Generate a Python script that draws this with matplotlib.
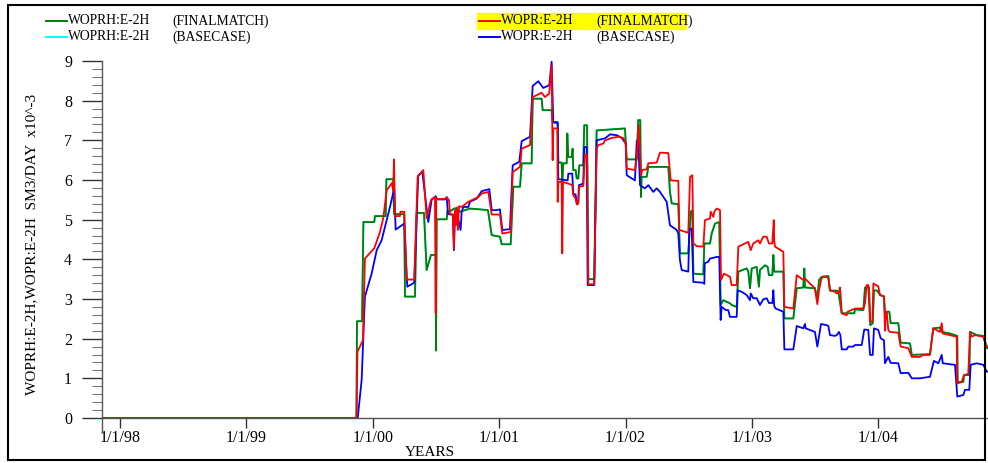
import matplotlib.pyplot as plt
from matplotlib.lines import Line2D
from matplotlib.patches import Rectangle

# oil rate E-2H, x in decimal years, y in SM3/DAY x10^-3
# WOPRH is the observed history, identical for both runs
woprhYears = [1997.858, 1999.871, 1999.875, 1999.915, 1999.926, 2000.012, 2000.017, 2000.102, 2000.108,
              2000.162, 2000.168, 2000.249, 2000.255, 2000.334, 2000.347, 2000.405, 2000.426, 2000.460,
              2000.498, 2000.500, 2000.506, 2000.585, 2000.591, 2000.611, 2000.650, 2000.690, 2000.769,
              2000.848, 2000.911, 2000.941, 2001.006, 2001.020, 2001.091, 2001.112, 2001.165, 2001.178,
              2001.257, 2001.265, 2001.336, 2001.344, 2001.415, 2001.423, 2001.463, 2001.468, 2001.494,
              2001.499, 2001.507, 2001.534, 2001.539, 2001.547, 2001.574, 2001.581, 2001.586, 2001.605,
              2001.613, 2001.626, 2001.634, 2001.665, 2001.673, 2001.695, 2001.705, 2001.752, 2001.771,
              2001.995, 2002.009, 2002.088, 2002.100, 2002.116, 2002.122, 2002.127, 2002.167, 2002.180,
              2002.338, 2002.351, 2002.365, 2002.417, 2002.430, 2002.496, 2002.515, 2002.528, 2002.536,
              2002.615, 2002.623, 2002.668, 2002.681, 2002.707, 2002.741, 2002.752, 2002.773, 2002.826,
              2002.839, 2002.879, 2002.892, 2002.958, 2002.971, 2002.984, 2002.998, 2003.037, 2003.055,
              2003.063, 2003.103, 2003.124, 2003.134, 2003.161, 2003.169, 2003.176, 2003.248, 2003.256,
              2003.327, 2003.354, 2003.406, 2003.414, 2003.419, 2003.498, 2003.517, 2003.530, 2003.551,
              2003.604, 2003.617, 2003.670, 2003.683, 2003.710, 2003.809, 2003.815, 2003.881, 2003.894,
              2003.926, 2003.936, 2003.955, 2003.965, 2003.991, 2004.013, 2004.044, 2004.052, 2004.086,
              2004.097, 2004.157, 2004.176, 2004.250, 2004.264, 2004.408, 2004.434, 2004.487, 2004.501,
              2004.566, 2004.624, 2004.627, 2004.672, 2004.677, 2004.719, 2004.725, 2004.751, 2004.778,
              2004.830, 2004.857, 2004.867]
woprhRates = [0, 0, 2.44, 2.44, 4.94, 4.94, 5.09, 5.09, 6.02,
              6.02, 5.14, 5.14, 3.06, 3.06, 5.17, 5.17, 3.73, 4.11,
              4.11, 1.70, 5.01, 5.01, 5.22, 5.21, 5.29, 5.20, 5.28,
              5.26, 5.24, 4.61, 4.57, 4.38, 4.38, 5.83, 5.83, 6.42,
              6.42, 8.05, 8.05, 7.76, 7.76, 7.46, 7.42, 6.44, 6.44,
              5.87, 6.42, 6.42, 7.17, 6.58, 6.58, 6.79, 6.25, 6.25,
              6.04, 6.04, 6.37, 6.37, 7.38, 7.38, 3.50, 3.50, 7.25,
              7.30, 6.52, 6.52, 7.51, 7.51, 5.57, 6.08, 6.08, 6.33,
              6.33, 5.70, 5.41, 5.39, 4.15, 4.15, 5.20, 5.24, 3.64,
              3.62, 4.40, 4.40, 4.65, 4.90, 4.94, 2.85, 2.97, 2.89,
              2.85, 2.80, 3.69, 3.77, 3.69, 3.27, 3.77, 3.81, 3.31,
              3.73, 3.85, 3.81, 3.60, 3.60, 4.11, 3.69, 3.69, 2.51,
              2.51, 3.27, 3.29, 3.77, 3.29, 3.27, 2.97, 3.48, 3.56,
              3.58, 3.21, 3.21, 3.18, 2.64, 2.64, 2.74, 2.72, 3.29,
              3.29, 2.34, 2.39, 3.22, 3.21, 3.10, 3.06, 2.68, 2.68,
              2.39, 2.39, 1.90, 1.88, 1.59, 1.61, 2.26, 2.28, 2.17,
              2.13, 2.07, 0.91, 0.91, 1.08, 1.08, 2.17, 2.13, 2.09,
              2.07, 1.76, 1.76]

woprFinalYears = [1997.858, 1999.871, 1999.879, 1999.922, 1999.938, 2000.012, 2000.057, 2000.083, 2000.110,
                  2000.150, 2000.162, 2000.168, 2000.176, 2000.215, 2000.219, 2000.249, 2000.268, 2000.328,
                  2000.355, 2000.400, 2000.426, 2000.460, 2000.492, 2000.498, 2000.502, 2000.571, 2000.585,
                  2000.603, 2000.611, 2000.634, 2000.642, 2000.650, 2000.658, 2000.666, 2000.674, 2000.682,
                  2000.703, 2000.756, 2000.835, 2000.862, 2000.914, 2000.941, 2001.006, 2001.025, 2001.091,
                  2001.107, 2001.165, 2001.178, 2001.244, 2001.265, 2001.336, 2001.362, 2001.396, 2001.415,
                  2001.423, 2001.428, 2001.460, 2001.463, 2001.468, 2001.494, 2001.499, 2001.505, 2001.547,
                  2001.578, 2001.586, 2001.605, 2001.616, 2001.626, 2001.631, 2001.665, 2001.679, 2001.695,
                  2001.705, 2001.752, 2001.771, 2001.784, 2001.824, 2001.837, 2001.890, 2001.942, 2001.982,
                  2002.001, 2002.009, 2002.074, 2002.088, 2002.104, 2002.122, 2002.132, 2002.167, 2002.180,
                  2002.246, 2002.272, 2002.338, 2002.357, 2002.417, 2002.425, 2002.496, 2002.510, 2002.528,
                  2002.536, 2002.563, 2002.615, 2002.628, 2002.668, 2002.673, 2002.694, 2002.702, 2002.721,
                  2002.747, 2002.755, 2002.778, 2002.826, 2002.839, 2002.879, 2002.892, 2002.919, 2002.971,
                  2002.990, 2003.010, 2003.050, 2003.063, 2003.089, 2003.116, 2003.134, 2003.161, 2003.172,
                  2003.176, 2003.182, 2003.208, 2003.248, 2003.256, 2003.327, 2003.354, 2003.380, 2003.406,
                  2003.419, 2003.445, 2003.498, 2003.517, 2003.530, 2003.551, 2003.591, 2003.604, 2003.617,
                  2003.657, 2003.670, 2003.688, 2003.696, 2003.702, 2003.710, 2003.749, 2003.757, 2003.815,
                  2003.881, 2003.894, 2003.907, 2003.920, 2003.934, 2003.952, 2003.960, 2003.999, 2004.013,
                  2004.044, 2004.052, 2004.058, 2004.066, 2004.078, 2004.092, 2004.157, 2004.176, 2004.237,
                  2004.264, 2004.329, 2004.355, 2004.408, 2004.434, 2004.487, 2004.501, 2004.509, 2004.566,
                  2004.619, 2004.624, 2004.659, 2004.677, 2004.711, 2004.725, 2004.738, 2004.764, 2004.830,
                  2004.843, 2004.857, 2004.867]
woprFinalRates = [0, 0, 1.67, 1.96, 4.02, 4.28, 4.69, 5.04, 5.74,
                  5.92, 5.74, 6.52, 5.09, 5.09, 5.20, 5.20, 3.49, 3.49,
                  6.08, 6.25, 5.04, 5.49, 5.57, 2.64, 5.52, 5.52, 5.57,
                  5.49, 5.13, 5.13, 4.27, 5.24, 4.86, 5.31, 4.74, 5.34,
                  5.32, 5.45, 5.57, 5.66, 5.70, 5.13, 5.13, 4.65, 4.69,
                  6.20, 6.33, 6.79, 6.88, 8.09, 8.20, 8.09, 8.18, 8.89,
                  6.50, 7.30, 7.30, 5.45, 5.95, 5.95, 4.15, 5.95, 5.91,
                  5.87, 5.62, 5.53, 5.38, 5.41, 5.83, 5.85, 6.64, 6.64,
                  3.37, 3.37, 6.79, 6.88, 6.92, 7.00, 7.06, 7.09, 7.06,
                  6.92, 6.29, 6.25, 6.54, 7.38, 6.12, 6.25, 6.27, 6.42,
                  6.44, 6.69, 6.68, 5.99, 5.98, 4.74, 4.67, 6.08, 6.12,
                  4.40, 4.33, 4.32, 4.99, 5.03, 5.20, 5.07, 5.20, 5.28,
                  5.24, 3.48, 3.64, 3.56, 3.35, 3.35, 4.32, 4.36, 4.44,
                  4.23, 4.40, 4.48, 4.40, 4.57, 4.57, 4.40, 4.40, 4.99,
                  4.48, 4.32, 4.27, 4.19, 2.80, 2.76, 3.60, 3.54, 3.48,
                  3.52, 3.43, 3.27, 2.87, 3.22, 3.54, 3.56, 3.52, 3.22,
                  3.18, 3.14, 3.18, 3.29, 3.06, 2.64, 2.59, 2.68, 2.76,
                  2.76, 2.89, 3.35, 3.35, 2.43, 2.43, 3.39, 3.32, 3.10,
                  3.07, 2.20, 2.64, 2.68, 2.22, 2.17, 2.15, 1.80, 1.76,
                  1.54, 1.54, 1.59, 1.59, 2.26, 2.17, 2.39, 2.13, 2.09,
                  2.05, 0.87, 0.91, 1.08, 1.11, 2.17, 2.05, 2.09, 2.05,
                  1.92, 1.80, 1.80]

woprBaseYears = [1997.858, 1999.881, 1999.912, 1999.938, 1999.991, 2000.031, 2000.070, 2000.110, 2000.136,
                 2000.170, 2000.181, 2000.249, 2000.273, 2000.328, 2000.360, 2000.392, 2000.439, 2000.466,
                 2000.498, 2000.508, 2000.571, 2000.585, 2000.595, 2000.634, 2000.642, 2000.650, 2000.674,
                 2000.695, 2000.703, 2000.716, 2000.756, 2000.769, 2000.822, 2000.862, 2000.922, 2000.941,
                 2000.980, 2001.006, 2001.025, 2001.085, 2001.107, 2001.159, 2001.178, 2001.244, 2001.265,
                 2001.309, 2001.349, 2001.396, 2001.415, 2001.428, 2001.463, 2001.468, 2001.542, 2001.547,
                 2001.578, 2001.586, 2001.605, 2001.613, 2001.626, 2001.631, 2001.665, 2001.673, 2001.692,
                 2001.700, 2001.752, 2001.771, 2001.837, 2001.877, 2001.930, 2001.969, 2002.001, 2002.009,
                 2002.074, 2002.088, 2002.100, 2002.114, 2002.132, 2002.153, 2002.180, 2002.219, 2002.246,
                 2002.272, 2002.325, 2002.351, 2002.404, 2002.417, 2002.430, 2002.444, 2002.496, 2002.504,
                 2002.523, 2002.536, 2002.615, 2002.623, 2002.626, 2002.654, 2002.668, 2002.721, 2002.741,
                 2002.752, 2002.760, 2002.794, 2002.812, 2002.826, 2002.879, 2002.887, 2002.919, 2002.958,
                 2002.984, 2002.990, 2003.010, 2003.037, 2003.063, 2003.089, 2003.116, 2003.134, 2003.161,
                 2003.169, 2003.176, 2003.187, 2003.248, 2003.256, 2003.327, 2003.354, 2003.406, 2003.419,
                 2003.425, 2003.498, 2003.517, 2003.546, 2003.591, 2003.604, 2003.617, 2003.657, 2003.670,
                 2003.688, 2003.699, 2003.710, 2003.749, 2003.762, 2003.801, 2003.815, 2003.868, 2003.888,
                 2003.920, 2003.934, 2003.955, 2003.965, 2003.999, 2004.018, 2004.044, 2004.052, 2004.078,
                 2004.097, 2004.157, 2004.176, 2004.237, 2004.264, 2004.329, 2004.408, 2004.439, 2004.474,
                 2004.501, 2004.509, 2004.606, 2004.624, 2004.672, 2004.685, 2004.719, 2004.730, 2004.778,
                 2004.830, 2004.857, 2004.867]
woprBaseRates = [0, 0, 0.96, 3.06, 3.64, 4.23, 4.48, 4.99, 5.32,
                 5.79, 4.75, 4.90, 3.31, 3.41, 6.12, 6.20, 4.94, 5.51,
                 5.59, 5.51, 5.51, 5.56, 5.14, 5.13, 4.23, 5.19, 5.04,
                 4.74, 5.19, 5.32, 5.32, 5.45, 5.53, 5.72, 5.77, 5.24,
                 5.24, 5.26, 4.74, 4.76, 6.37, 6.46, 6.98, 7.09, 8.37,
                 8.49, 8.32, 8.39, 8.98, 7.46, 7.46, 6.02, 5.99, 6.16,
                 6.16, 5.66, 5.63, 5.41, 5.45, 5.87, 5.91, 6.83, 6.83,
                 3.35, 3.35, 7.00, 7.05, 7.15, 7.13, 7.06, 6.92, 6.12,
                 5.99, 6.96, 7.05, 5.87, 5.83, 5.79, 5.87, 5.70, 5.79,
                 5.70, 5.45, 4.86, 4.74, 4.65, 3.98, 3.73, 3.69, 4.74,
                 4.78, 3.43, 3.41, 3.38, 3.90, 3.94, 4.02, 4.06, 4.06,
                 2.47, 2.80, 2.72, 2.72, 2.55, 2.55, 3.22, 3.18, 3.10,
                 2.97, 3.14, 3.02, 3.02, 2.85, 2.99, 3.02, 2.90, 2.90,
                 3.22, 2.82, 2.76, 2.68, 1.73, 1.73, 2.32, 2.26, 2.37,
                 2.26, 2.17, 1.80, 2.37, 2.34, 2.32, 2.09, 2.07, 2.09,
                 2.17, 2.09, 1.73, 1.73, 1.80, 1.80, 1.84, 1.84, 2.23,
                 2.22, 1.59, 1.59, 2.26, 2.22, 2.01, 1.96, 1.38, 1.54,
                 1.39, 1.38, 1.13, 1.14, 1.00, 1.00, 1.04, 1.44, 1.38,
                 1.59, 1.38, 1.34, 0.54, 0.58, 0.71, 0.71, 1.34, 1.38,
                 1.34, 1.17, 1.17]

yearTicks = [1998, 1999, 2000, 2001, 2002, 2003, 2004]
yearLabels = ['1/1/98', '1/1/99', '1/1/00', '1/1/01', '1/1/02', '1/1/03', '1/1/04']
rateTicks = list(range(10))

W, H = 988, 463
SERIF = 'Liberation Serif'


def figX(px):
    return px / W


def figY(py):
    return 1 - py / H


def addLegendEntry(fig, line, x, y, name, case, caseX):
    fig.add_artist(Line2D([figX(x), figX(x + 21)], [figY(y), figY(y)],
                          color=line.get_color(), lw=1.4, transform=fig.transFigure))
    fig.text(figX(x + 22), figY(y), name, va='center', ha='left', fontsize=9.8, family=SERIF)
    fig.text(figX(caseX), figY(y), case, va='center', ha='left', fontsize=9.8, family=SERIF)


fig = plt.figure(figsize=(W / 100, H / 100), dpi=100)
ax = fig.add_axes([figX(102), (H - 418) / H, (988 - 102) / W, (418 - 61) / H])

cyanLine, = ax.plot(woprhYears, woprhRates, color='#00ffff', lw=1.3, zorder=1)
greenLine, = ax.plot(woprhYears, woprhRates, color='#008000', lw=1.3, zorder=2)
blueLine, = ax.plot(woprBaseYears, woprBaseRates, color='#0000ff', lw=1.3, zorder=3)
redLine, = ax.plot(woprFinalYears, woprFinalRates, color='#ff0000', lw=1.3, zorder=4)

ax.set_xlim(1997.858, 2004.867)
ax.set_ylim(0, 9)
for side in ['top', 'right']:
    ax.spines[side].set_visible(False)
for side in ['left', 'bottom']:
    ax.spines[side].set_color('#555555')
    ax.spines[side].set_linewidth(1.0)

ax.set_xticks(yearTicks)
ax.set_xticklabels(yearLabels, family=SERIF, fontsize=11.5)
ax.set_xticks([1997.858], minor=True)
ax.set_yticks(rateTicks)
ax.set_yticklabels([str(t) for t in rateTicks], family=SERIF, fontsize=11.5)
ax.set_yticks([i / 5 for i in range(46) if i % 5], minor=True)
ax.tick_params(axis='x', which='major', direction='out', length=7, width=1, color='#333333', pad=2)
ax.tick_params(axis='x', which='minor', direction='out', length=11, width=1, color='#555555')
ax.tick_params(axis='y', which='major', direction='out', length=14.5, width=1, color='#333333', pad=7)
ax.tick_params(axis='y', which='minor', direction='out', length=7, width=0.8, color='#777777')

fig.text(figX(430), figY(453), 'YEARS', ha='center', va='center', fontsize=11, family=SERIF)
fig.text(figX(32), figY(244), 'WOPRH:E-2H,WOPR:E-2H  SM3/DAY  x10^-3', rotation=90,
         ha='center', va='center', fontsize=11, family=SERIF)

# highlighted entry background
fig.add_artist(Rectangle((figX(477), figY(29)), (686 - 477) / W, 16 / H, color='#ffff00',
                         transform=fig.transFigure, zorder=0))
addLegendEntry(fig, greenLine, 46, 21, 'WOPRH:E-2H', '(FINALMATCH)', 172)
addLegendEntry(fig, cyanLine, 46, 37, 'WOPRH:E-2H', '(BASECASE)', 172)
addLegendEntry(fig, redLine, 479, 21, 'WOPR:E-2H', '(FINALMATCH)', 596)
addLegendEntry(fig, blueLine, 479, 37, 'WOPR:E-2H', '(BASECASE)', 596)

# outer frame
fig.add_artist(Rectangle((figX(8), figY(460)), (985 - 8) / W, (460 - 5) / H, fill=False,
                         edgecolor='black', lw=1.5, transform=fig.transFigure))

fig.savefig('out.png', dpi=100)
